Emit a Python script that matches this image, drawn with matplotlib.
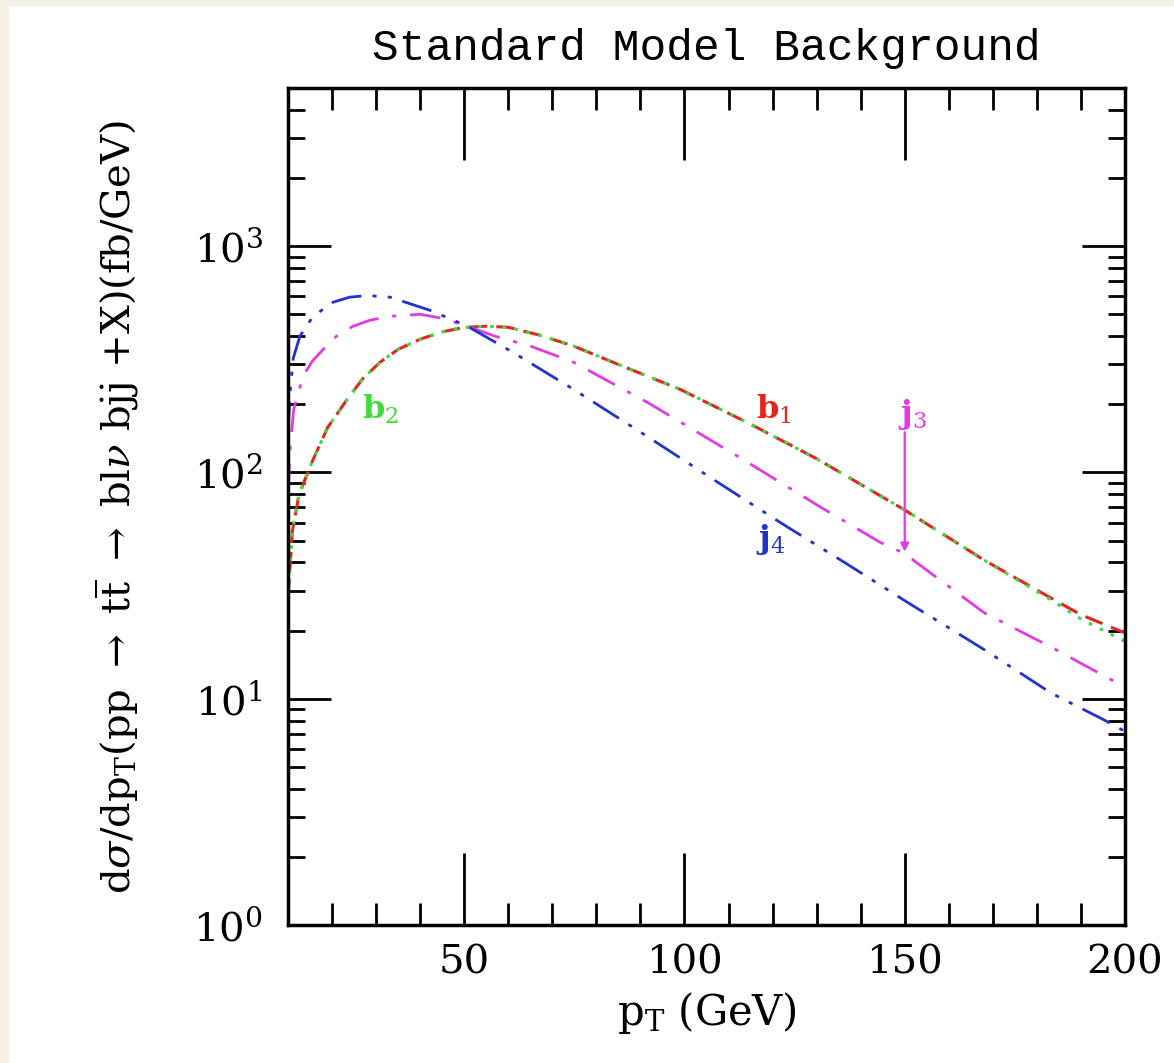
import matplotlib
matplotlib.use("Agg")
import matplotlib.pyplot as plt
from matplotlib.patches import Rectangle
from matplotlib.ticker import MultipleLocator, LogLocator, NullFormatter

plt.rcParams['mathtext.fontset'] = 'dejavuserif'
plt.rcParams['font.family'] = ['DejaVu Serif']

# b1 (red dashed) and b2 (green dotted)
b_pt = [10, 11, 12.5, 15.7, 19, 23.4, 27, 30.9, 35, 40, 45, 49.8, 55, 60, 67, 74.8, 85, 99, 114.3, 130, 149.8, 168, 183, 190, 199.8]
b1_val = [28, 55, 80, 114, 158, 210, 260, 307, 350, 388, 418, 437, 443, 438, 405, 362, 300, 233, 166, 115, 68.6, 41, 28, 23.5, 19.6]
b2_val = [28, 55, 80, 114, 158, 210, 260, 307, 350, 388, 418, 437, 443, 438, 405, 362, 300, 233, 166, 115, 68.6, 41, 27.5, 22.5, 18.0]

# j3 (magenta dash-dot)
j3_pt = [10, 10.5, 11.3, 13.4, 15.5, 18, 21, 24.8, 28.5, 33.2, 40, 45, 50.7, 57, 65, 74.8, 91.6, 114.3, 130, 144.5, 149.8, 168, 183, 199.8]
j3_val = [80, 130, 190, 266, 310, 350, 400, 443, 470, 490, 500, 480, 443, 400, 362, 307, 204, 111, 72, 49, 44, 24, 17, 11.3]

# j4 (blue dash-dot-dot)
j4_pt = [10, 10.5, 11.2, 12.7, 15.7, 20.2, 24, 28, 33.2, 42.3, 50.7, 61, 74.8, 91.6, 106.6, 121.8, 137.7, 150.7, 168, 183.2, 195.2, 199.8]
j4_val = [150, 230, 320, 400, 490, 565, 595, 605, 595, 520, 443, 340, 233, 144, 93, 60, 38.5, 26.6, 16.5, 10.6, 8.07, 7.2]

fig = plt.figure(figsize=(11.74, 10.63), dpi=100, facecolor='white')
# beige border strips (left and top)
fig.patches.append(Rectangle((0, 0), 8/1174, 1, transform=fig.transFigure, color='#f5f1e4', zorder=0))
fig.patches.append(Rectangle((0, 1 - 5/1063), 1, 5/1063, transform=fig.transFigure, color='#f5f1e4', zorder=0))

ax = fig.add_axes([288/1174, 1 - 925/1063, (1125-288)/1174, (925-88)/1063])
ax.set_yscale('log')
ax.set_xlim(10, 200)
ax.set_ylim(1, 5000)

ax.plot(b_pt, b1_val, color='#e8231e', lw=2.2, ls=(0, (6, 3)))
ax.plot(b_pt, b2_val, color='#3ddc3d', lw=2.2, ls=(0, (1.2, 2.8)))
ax.plot(j3_pt, j3_val, color='#e33be3', lw=2.0, ls=(0, (11, 5, 1.5, 5)))
ax.plot(j4_pt, j4_val, color='#2233cc', lw=2.0, ls=(0, (11, 4, 1.5, 4, 1.5, 4)))

# labels
ax.text(30.9, 190, r'b$_2$', color='#3ddc3d', fontsize=23, fontweight='bold', ha='center', va='center')
ax.text(120.2, 190, r'b$_1$', color='#e8231e', fontsize=23, fontweight='bold', ha='center', va='center')
ax.text(151.8, 180, r'j$_3$', color='#e33be3', fontsize=23, fontweight='bold', ha='center', va='center')
ax.text(119.5, 50.5, r'j$_4$', color='#2233cc', fontsize=23, fontweight='bold', ha='center', va='center')
ax.annotate('', xy=(150, 43.4), xytext=(150, 155),
            arrowprops=dict(arrowstyle='-|>', color='#e33be3', lw=1.6, mutation_scale=12))

# ticks
ax.xaxis.set_major_locator(MultipleLocator(50))
ax.xaxis.set_minor_locator(MultipleLocator(10))
ax.yaxis.set_major_locator(LogLocator(base=10, numticks=10))
ax.yaxis.set_minor_locator(LogLocator(base=10, subs=range(2, 10), numticks=20))
ax.yaxis.set_minor_formatter(NullFormatter())
ax.tick_params(which='both', direction='in', top=True, right=True, width=2, color='black')
ax.tick_params(axis='x', which='major', length=52, labelsize=29, pad=14)
ax.tick_params(axis='x', which='minor', length=16)
ax.tick_params(axis='y', which='major', length=31, labelsize=29, pad=18)
ax.tick_params(axis='y', which='minor', length=12)
for s in ax.spines.values():
    s.set_linewidth(2.5)

ax.set_title('Standard Model Background', fontsize=32, family='Liberation Mono', pad=20)
ax.set_xlabel(r'p$_{\rm T}$ (GeV)', fontsize=30, labelpad=6)
ax.set_ylabel(r'd$\sigma$/dp$_{\rm T}$(pp $\rightarrow$ t$\overline{\rm t}$ $\rightarrow$ bl$\nu$ bjj +X)(fb/GeV)',
              fontsize=29, labelpad=38)

fig.savefig('out.png', dpi=100, facecolor=fig.get_facecolor())
